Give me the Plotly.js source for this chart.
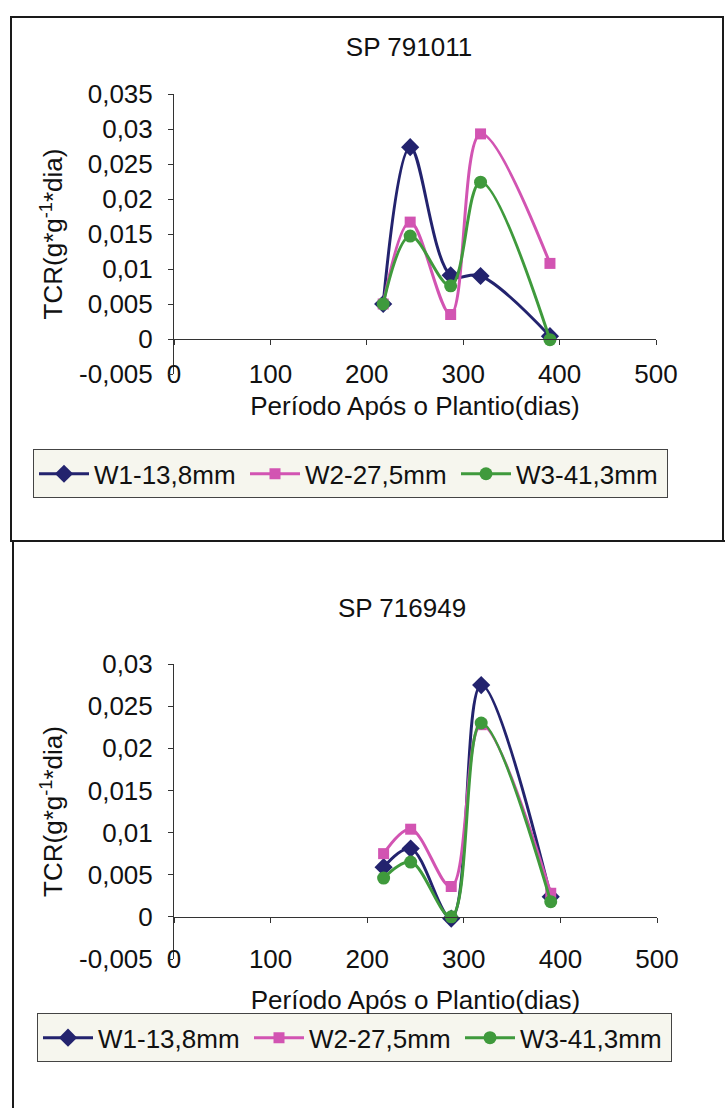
<!DOCTYPE html>
<html><head><meta charset="utf-8">
<script src="https://cdn.plot.ly/plotly-3.0.1.min.js"></script>
<style>
html,body{margin:0;padding:0;background:#fff;width:725px;height:1108px;overflow:hidden;position:relative}
#c1{position:absolute;left:0;top:0;width:725px;height:541px}
#c2{position:absolute;left:0;top:541px;width:725px;height:567px}
.bl{position:absolute;background:#1a1a1a;pointer-events:none;z-index:10}
</style></head><body>
<div id="c1"></div><div id="c2"></div>
<div class="bl" style="left:10px;top:16px;width:714px;height:2px"></div>
<div class="bl" style="left:10px;top:16px;width:2px;height:526px"></div>
<div class="bl" style="left:722px;top:16px;width:2px;height:526px"></div>
<div class="bl" style="left:10px;top:540px;width:715px;height:2px"></div>
<div class="bl" style="left:12px;top:540px;width:2px;height:568px"></div>
<script>
// ---- data ----
const days = [217, 245, 287, 318, 390];
const seriesNames = ['W1-13,8mm', 'W2-27,5mm', 'W3-41,3mm'];

const sp791011_W1 = [0.0050, 0.0274, 0.0091, 0.0090, 0.0004];
const sp791011_W2 = [0.0050, 0.0167, 0.0035, 0.0293, 0.0108];
const sp791011_W3 = [0.0050, 0.0147, 0.0076, 0.0224, -0.0001];

const sp716949_W1 = [0.0059, 0.0081, -0.0002, 0.0275, 0.0024];
const sp716949_W2 = [0.0075, 0.0104, 0.0036, 0.0228, 0.0028];
const sp716949_W3 = [0.0046, 0.0065, 0.0000, 0.0230, 0.0018];

const xTickVals = [0, 100, 200, 300, 400, 500];
const xTickText = ['0', '100', '200', '300', '400', '500'];
const yTickVals1 = [-0.005, 0, 0.005, 0.01, 0.015, 0.02, 0.025, 0.03, 0.035];
const yTickText1 = ['-0,005', '0', '0,005', '0,01', '0,015', '0,02', '0,025', '0,03', '0,035'];
const yTickVals2 = [-0.005, 0, 0.005, 0.01, 0.015, 0.02, 0.025, 0.03];
const yTickText2 = ['-0,005', '0', '0,005', '0,01', '0,015', '0,02', '0,025', '0,03'];

const colors = ['#23236e', '#d254b2', '#3f9a3c'];
const symbols = ['diamond', 'square', 'circle'];
const msizes = [14, 11, 13];
const FONT = 'Liberation Sans, Arial, sans-serif';

function draw(id, cfg) {
  const H = cfg.H;
  const traces = cfg.series.map((ys, i) => ({
    type: 'scatter', mode: 'lines+markers', x: days, y: ys, name: seriesNames[i],
    line: {shape: 'spline', smoothing: 1, color: colors[i], width: 3},
    marker: {symbol: symbols[i], size: msizes[i], color: colors[i]},
    xaxis: 'x', yaxis: 'y', hoverinfo: 'skip'
  }));
  traces.push({type: 'scatter', x: [], y: [], xaxis: 'x2', yaxis: 'y', showlegend: false, hoverinfo: 'skip'});
  const yr = cfg.yRange;
  const zeroFrac = (0 - yr[0]) / (yr[1] - yr[0]);
  const plotW = cfg.rPx - cfg.l, plotH = cfg.bPx - cfg.t;
  const layout = {
    width: 725, height: H,
    margin: {l: cfg.l, r: 725 - cfg.rPx, t: cfg.t, b: H - cfg.bPx, pad: 0},
    paper_bgcolor: 'rgba(0,0,0,0)', plot_bgcolor: 'rgba(0,0,0,0)',
    font: {family: FONT, size: 26, color: '#111'},
    separators: ', ',
    title: {text: cfg.title, x: cfg.titleX / 725, xanchor: 'center', xref: 'container',
            y: 1 - cfg.titleY / H, yanchor: 'middle', yref: 'container', font: {size: 26, color: '#111'}},
    showlegend: true,
    legend: {orientation: 'h', xref: 'paper', yref: 'paper',
             x: (cfg.legX - cfg.l) / plotW, xanchor: 'left', y: (cfg.bPx - cfg.legY) / plotH, yanchor: 'top',
             bgcolor: '#f6f6ee', bordercolor: '#444', borderwidth: 1,
             font: {size: 26, color: '#111'}, entrywidth: cfg.entryW, itemwidth: 50, tracegroupgap: 0},
    xaxis: {range: [0, 500], tickvals: xTickVals, ticktext: xTickText, ticks: '', showline: false,
            showgrid: false, zeroline: false, ticklabelstandoff: -18, fixedrange: true,
            title: {text: 'Período Após o Plantio(dias)', standoff: cfg.xTitleStandoff, font: {size: 26}}},
    xaxis2: {overlaying: 'x', anchor: 'free', position: zeroFrac, range: [0, 500], tickvals: xTickVals,
             showticklabels: false, ticks: 'outside', ticklen: 5, tickcolor: '#333', showline: true,
             linecolor: '#333', linewidth: 1, showgrid: false, zeroline: false, fixedrange: true},
    yaxis: {range: yr, tickvals: cfg.yTickVals, ticktext: cfg.yTickText, ticks: 'outside', ticklen: 5,
            tickcolor: '#333', showline: true, linecolor: '#333', linewidth: 1, showgrid: false,
            zeroline: false, ticklabelstandoff: 10, fixedrange: true,
            title: {text: 'TCR(g*g<sup>-1</sup>*dia)', standoff: 8, font: {size: 26}}}
  };
  Plotly.newPlot(id, traces, layout, {displayModeBar: false, staticPlot: true});
}

draw('c1', {
  H: 541, l: 174, rPx: 656, t: 94, bPx: 374.5, yRange: [-0.005, 0.035],
  yTickVals: yTickVals1, yTickText: yTickText1,
  series: [sp791011_W1, sp791011_W2, sp791011_W3],
  title: 'SP 791011', titleX: 409, titleY: 47,
  legX: 33, legY: 450, entryW: 146, xTitleStandoff: 8
});
draw('c2', {
  H: 567, l: 174, rPx: 657, t: 123, bPx: 417.8, yRange: [-0.005, 0.03],
  yTickVals: yTickVals2, yTickText: yTickText2,
  series: [sp716949_W1, sp716949_W2, sp716949_W3],
  title: 'SP 716949', titleX: 402, titleY: 67,
  legX: 37, legY: 472, entryW: 146, xTitleStandoff: 17
});
</script>
</body></html>
